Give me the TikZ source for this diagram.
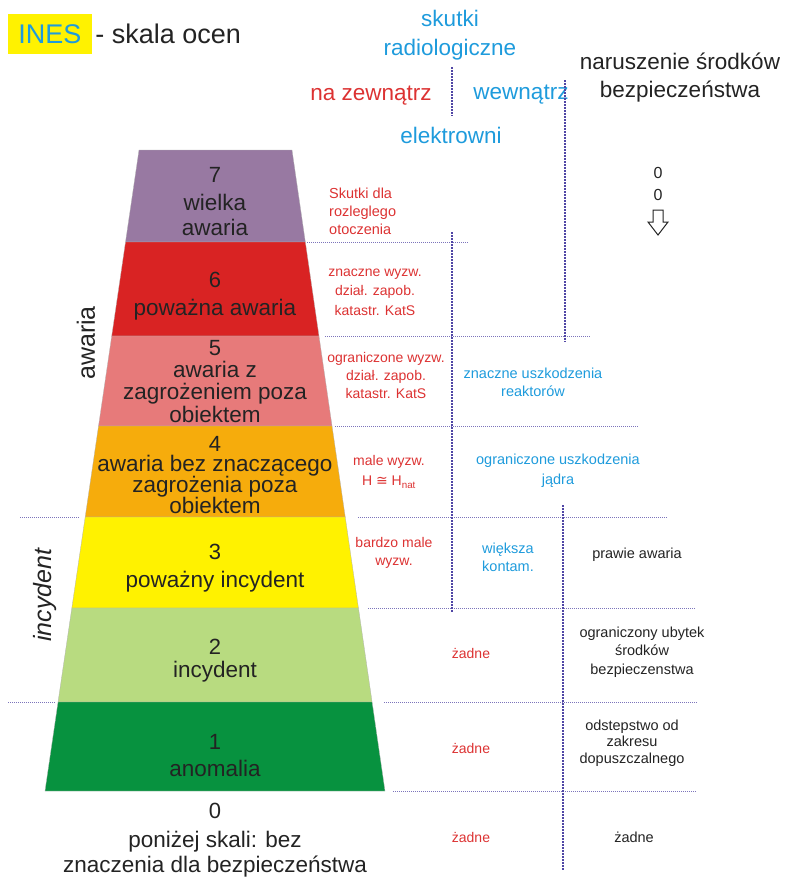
\documentclass[tikz,border=0pt]{standalone}
\usepackage{fontspec}
\setmainfont{Liberation Sans}
\newfontfamily\symfont{DejaVu Sans}
\definecolor{levseven}{RGB}{152,121,162}
\definecolor{levsix}{RGB}{217,35,35}
\definecolor{levfive}{RGB}{231,122,122}
\definecolor{levfour}{RGB}{246,172,12}
\definecolor{levthree}{RGB}{255,242,0}
\definecolor{levtwo}{RGB}{184,219,128}
\definecolor{levone}{RGB}{7,146,63}
\definecolor{inesblue}{RGB}{30,155,220}
\definecolor{inesred}{RGB}{220,50,50}
\definecolor{inesgray}{RGB}{35,35,35}
\definecolor{sepline}{RGB}{80,70,165}
\usetikzlibrary{
	positioning
}
\tikzset{
	levnum/.style={font=\fontsize{22}{22}\selectfont, text=inesgray, inner sep=0pt},
	levtxt/.style={align=center, text=inesgray, inner sep=0pt},
	headtxt/.style={font=\fontsize{22.5}{29}\selectfont, align=center},
	smalltxt/.style={align=center, inner sep=0pt},
	hsep/.style={sepline!75, line width=0.8pt, dash pattern=on 1pt off 1pt},
	vsep/.style={sepline, line width=1.5pt, dash pattern=on 1.5pt off 1.5pt}
}

\begin{document}
\begin{tikzpicture}[x=1pt, y=-1pt]
	\useasboundingbox (0,0) rectangle (785,879);
	\foreach \ytop/\ybot/\col in {150/242/levseven, 242/336/levsix, 336/426/levfive, 426/517/levfour, 517/608/levthree, 608/702/levtwo, 702/791/levone} {
		\filldraw[fill=\col, draw=black!30, line width=0.3pt]
			({139-0.14665*(\ytop-150)},\ytop) -- ({292+0.14509*(\ytop-150)},\ytop)
			-- ({292+0.14509*(\ybot-150)},\ybot) -- ({139-0.14665*(\ybot-150)},\ybot) -- cycle;
	}
	\foreach \n/\yn/\yt/\sk/\txt in {
		7/175/214.5/25/{wielka\\awaria},
		6/280/310/25/{poważna awaria},
		5/348/391.5/22.5/{awaria z\\zagrożeniem poza\\obiektem},
		4/443.5/484.5/21/{awaria bez znaczącego\\zagrożenia poza\\obiektem},
		3/552/582/25/{poważny incydent},
		2/647/672/25/{incydent},
		1/742/768/25/{anomalia},
		0/811/854/25/{poniżej skali: bez\\znaczenia dla bezpieczeństwa}} {
		\node[levnum] (num\n) at (215,\yn) {\n};
		\node[levtxt, font=\fontsize{22.5}{\sk}\selectfont] (txt\n) at (215,\yt) {\txt};
	}
	\node[rotate=90, font=\fontsize{25}{25}\selectfont, text=inesgray] (groupawaria) at (86,343) {awaria};
	\node[rotate=90, font=\fontsize{25}{25}\selectfont\itshape, text=inesgray] (groupincydent) at (45,595) {incydent};

	\node[fill=yellow, minimum width=84pt, minimum height=40pt, inner sep=0pt, text=inesblue, font=\fontsize{27}{27}\selectfont] (ines) at (50,34) {INES};
	\node[right=1pt of ines, inner sep=2pt, text=inesgray, font=\fontsize{27}{27}\selectfont] (title) {- skala ocen};

	\node[headtxt, text=inesblue] (skutki) at (450,35) {skutki\\radiologiczne};
	\node[headtxt, text=inesred] (zewn) at (371,96) {na zewnątrz};
	\node[headtxt, text=inesblue] (wewn) at (521,95) {wewnątrz};
	\node[headtxt, text=inesblue] (elektr) at (451,135) {elektrowni};
	\node[headtxt, font=\fontsize{22.5}{28}\selectfont, text=inesgray] (narusz) at (680,78) {naruszenie środków\\bezpieczeństwa};
	\node[text=inesgray, font=\fontsize{16}{16}\selectfont, inner sep=0pt] (dotone) at (658,173) {0};
	\node[text=inesgray, font=\fontsize{16}{16}\selectfont, inner sep=0pt] (dottwo) at (658,195) {0};
	\draw[inesgray, line width=1pt, line join=miter] (653,210) -- (663,210) -- (663,222) -- (668,222) -- (658,235) -- (648,222) -- (653,222) -- cycle;

	\foreach \yy/\xa/\xb in {242/307/468, 336/325/590, 426/335/638, 517/358/668, 608/368/695, 702/384/697, 791/393/697, 517/20/80, 702/8/55}
		\draw[hsep] (\xa,\yy) -- (\xb,\yy);
	\foreach \xx/\ya/\yb in {452/67/116, 452/232/612, 565/80/342, 563/505/870}
		\draw[vsep] (\xx,\ya) -- (\xx,\yb);

	\node[smalltxt, align=left, text=inesred, font=\fontsize{14.5}{18}\selectfont, anchor=west] (radseven) at (329,211) {Skutki dla\\rozleglego\\otoczenia};
	\node[smalltxt, text=inesred, font=\fontsize{14}{19.5}\selectfont] (radsix) at (375,292) {znaczne wyzw.\\dział. zapob.\\katastr. KatS};
	\node[smalltxt, text=inesred, font=\fontsize{14}{18}\selectfont] (radfive) at (386,375) {ograniczone wyzw.\\dział. zapob.\\katastr. KatS};
	\node[smalltxt, text=inesred, font=\fontsize{14}{20}\selectfont] (radfour) at (389,472) {male wyzw.\\H {\symfont ≅} H\textsubscript{nat}};
	\node[smalltxt, text=inesred, font=\fontsize{14}{18}\selectfont] (radthree) at (394,553) {bardzo male\\wyzw.};
	\foreach \n/\yy in {two/653, one/748, zero/837}
		\node[smalltxt, text=inesred, font=\fontsize{14}{18}\selectfont] (rad\n) at (471,\yy) {żadne};

	\node[smalltxt, text=inesblue, font=\fontsize{14.5}{18}\selectfont] (insfive) at (533,382) {znaczne uszkodzenia\\reaktorów};
	\node[smalltxt, text=inesblue, font=\fontsize{14.5}{20}\selectfont] (insfour) at (558,471) {ograniczone uszkodzenia\\jądra};
	\node[smalltxt, text=inesblue, font=\fontsize{14.5}{18}\selectfont] (insthree) at (508,557) {większa\\kontam.};

	\node[smalltxt, text=inesgray, font=\fontsize{14.5}{18}\selectfont] (safethree) at (637,555) {prawie awaria};
	\node[smalltxt, text=inesgray, font=\fontsize{14.5}{18.5}\selectfont] (safetwo) at (642,652) {ograniczony ubytek\\środków\\bezpieczenstwa};
	\node[smalltxt, text=inesgray, font=\fontsize{14.5}{16.5}\selectfont] (safeone) at (632,743) {odstepstwo od\\zakresu\\dopuszczalnego};
	\node[smalltxt, text=inesgray, font=\fontsize{14.5}{18}\selectfont] (safezero) at (634,837) {żadne};
\end{tikzpicture}
\end{document}
